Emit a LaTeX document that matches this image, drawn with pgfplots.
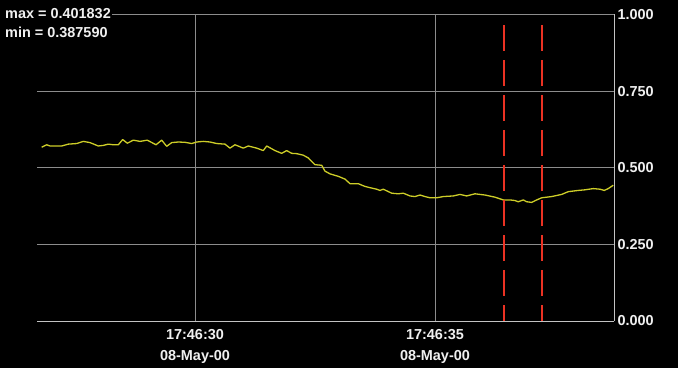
\documentclass[border=0pt]{standalone}
\usepackage{fontspec}
\setmainfont{Liberation Sans}
\usepackage{pgfplots}
\pgfplotsset{compat=1.18}
\definecolor{gridgray}{RGB}{140,140,140}
\definecolor{axisgray}{RGB}{195,195,195}
\definecolor{tracecol}{RGB}{205,205,40}
\definecolor{cursorred}{RGB}{235,50,35}
\definecolor{labelwhite}{RGB}{240,240,240}
\pgfplotstableread{
x y
26.806 0.567
26.910 0.575
26.979 0.571
27.223 0.571
27.360 0.577
27.535 0.579
27.673 0.586
27.813 0.582
27.985 0.571
28.090 0.573
28.194 0.577
28.298 0.575
28.402 0.575
28.494 0.592
28.590 0.580
28.715 0.590
28.854 0.586
29.006 0.590
29.188 0.575
29.306 0.590
29.410 0.570
29.515 0.582
29.652 0.584
29.792 0.583
29.931 0.579
30.035 0.584
30.173 0.586
30.313 0.584
30.452 0.579
30.625 0.577
30.729 0.564
30.833 0.575
31.006 0.564
31.110 0.571
31.285 0.564
31.423 0.556
31.494 0.571
31.667 0.556
31.806 0.547
31.910 0.556
32.015 0.547
32.119 0.546
32.256 0.541
32.360 0.532
32.500 0.510
32.640 0.508
32.708 0.489
32.813 0.480
32.985 0.472
33.125 0.463
33.229 0.448
33.402 0.448
33.542 0.439
33.646 0.435
33.785 0.430
33.854 0.426
33.923 0.430
34.098 0.417
34.235 0.415
34.340 0.417
34.479 0.408
34.583 0.406
34.688 0.411
34.792 0.406
34.896 0.402
35.035 0.402
35.173 0.406
35.381 0.408
35.521 0.413
35.660 0.408
35.833 0.415
36.042 0.411
36.250 0.404
36.423 0.395
36.563 0.395
36.667 0.393
36.735 0.389
36.840 0.395
36.910 0.389
37.015 0.387
37.119 0.395
37.223 0.402
37.431 0.406
37.640 0.413
37.777 0.422
37.985 0.426
38.125 0.428
38.298 0.432
38.438 0.430
38.527 0.426
38.610 0.432
38.715 0.443
}\tracedata
\begin{document}
\begin{tikzpicture}
\useasboundingbox (0bp,0bp) rectangle (678bp,368bp);
\fill[black] (0bp,0bp) rectangle (678bp,368bp);
\begin{axis}[
  at={(37bp,47bp)}, anchor=south west,
  scale only axis, width=577bp, height=306.5bp,
  xmin=26.708, xmax=38.73, ymin=0, ymax=1,
  axis x line*=bottom, axis y line*=right,
  axis line style={axisgray, line width=1bp},
  xtick={30,35},
  xticklabels={{17:46:30\\08-May-00},{17:46:35\\08-May-00}},
  ytick={0,0.25,0.5,0.75,1},
  yticklabel style={/pgf/number format/fixed, /pgf/number format/fixed zerofill, /pgf/number format/precision=3, /pgf/number format/assume math mode=true},
  major tick length=0pt,
  grid=major,
  major grid style={gridgray, line width=0.9bp},
  tick label style={text=labelwhite, font=\fontsize{14.5}{20.7}\selectfont\bfseries},
  xticklabel style={align=center, yshift=-5bp},
  clip=false,
]
\addplot[color=tracecol, line width=1.3bp, line join=round] table[x=x, y=y] {\tracedata};
\addplot[cursorred, line width=2bp, dash pattern=on 26bp off 9bp] coordinates {(36.43,0.965) (36.43,0.0)};
\addplot[cursorred, line width=2bp, dash pattern=on 26bp off 9bp] coordinates {(37.22,0.965) (37.22,0.0)};
\end{axis}
\node[anchor=west, fill=black, inner sep=1bp, text=labelwhite, font=\fontsize{14.5}{17}\selectfont\bfseries] at (4bp,354bp) {max = 0.401832};
\node[anchor=west, fill=black, inner sep=1bp, text=labelwhite, font=\fontsize{14.5}{17}\selectfont\bfseries] at (4bp,336bp) {min = 0.387590};
\end{tikzpicture}
\end{document}
